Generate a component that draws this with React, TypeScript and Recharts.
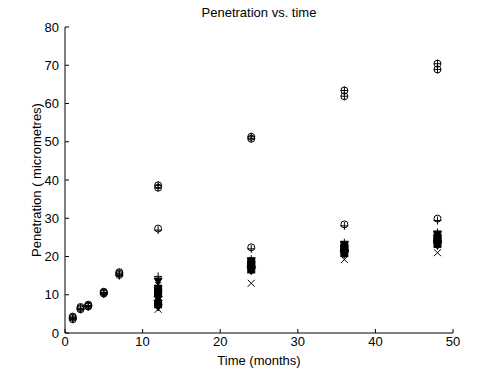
import React from 'react';
import { ScatterChart, Scatter, XAxis, YAxis } from 'recharts';

const times = [1, 2, 3, 5, 7, 12, 24, 36, 48];
const lateTimes = [12, 24, 36, 48];

const specA = [4.0, 6.5, 7.2, 10.6, 15.6, 38.6, 51.3, 63.4, 70.4];
const specB = [3.6, 6.2, 6.9, 10.3, 15.2, 38.0, 50.8, 61.9, 68.9];
const specC = [4.3, 6.8, 7.4, 10.8, 15.9, 27.3, 22.4, 28.4, 29.9];
const specD = [3.8, 6.3, 7.0, 10.2, 15.0, 26.9, 22.0, 28.0, 29.4];

const specE = [14.8, 19.3, 23.6, 26.3];
const specJ = [13.6, 18.9, 23.2, 25.9];
const specF = [12.5, 18.6, 22.8, 25.5];
const specK = [11.5, 18.2, 22.4, 25.0];
const specG = [10.5, 17.8, 22.0, 24.6];
const specL = [9.5, 17.4, 21.7, 24.2];
const specH = [8.5, 17.0, 21.3, 23.7];
const specM = [7.5, 16.6, 20.9, 23.3];
const specI = [6.8, 16.3, 20.6, 22.9];
const specX = [6.2, 13.0, 19.2, 21.0];

const xTicks = [0, 10, 20, 30, 40, 50];
const yTicks = [0, 10, 20, 30, 40, 50, 60, 70, 80];

const toPts = (ts: number[], vs: number[]) => ts.map((t, i) => ({ t, v: vs[i] }));

const FONT = '"Liberation Sans", Arial, sans-serif';
const S = '#000';

const CircleM = (p: any) => <circle cx={p.cx} cy={p.cy} r={3.5} fill="none" stroke={S} strokeWidth={1} />;
const PlusM = (p: any) => (
  <g stroke={S} strokeWidth={1}>
    <line x1={p.cx - 4} x2={p.cx + 4} y1={p.cy} y2={p.cy} />
    <line x1={p.cx} x2={p.cx} y1={p.cy - 4} y2={p.cy + 4} />
  </g>
);
const CirclePlusM = (p: any) => (
  <g stroke={S} strokeWidth={1} fill="none">
    <circle cx={p.cx} cy={p.cy} r={3.5} />
    <line x1={p.cx - 3.5} x2={p.cx + 3.5} y1={p.cy} y2={p.cy} />
    <line x1={p.cx} x2={p.cx} y1={p.cy - 4} y2={p.cy + 4} />
  </g>
);
const XM = (p: any) => (
  <g stroke={S} strokeWidth={1}>
    <line x1={p.cx - 3.5} x2={p.cx + 3.5} y1={p.cy - 3.5} y2={p.cy + 3.5} />
    <line x1={p.cx - 3.5} x2={p.cx + 3.5} y1={p.cy + 3.5} y2={p.cy - 3.5} />
  </g>
);
const SquareM = (p: any) => <rect x={p.cx - 3.5} y={p.cy - 3.5} width={7} height={7} fill={S} stroke={S} />;
const DiamondM = (p: any) => (
  <polygon points={`${p.cx},${p.cy - 4} ${p.cx + 4},${p.cy} ${p.cx},${p.cy + 4} ${p.cx - 4},${p.cy}`} fill={S} stroke={S} />
);
const TriM = (p: any) => (
  <polygon points={`${p.cx},${p.cy + 4} ${p.cx + 4},${p.cy - 3} ${p.cx - 4},${p.cy - 3}`} fill={S} stroke={S} />
);
const StarM = (p: any) => (
  <g stroke={S} strokeWidth={1}>
    <line x1={p.cx - 4} x2={p.cx + 4} y1={p.cy} y2={p.cy} />
    <line x1={p.cx} x2={p.cx} y1={p.cy - 4} y2={p.cy + 4} />
    <line x1={p.cx - 3} x2={p.cx + 3} y1={p.cy - 3} y2={p.cy + 3} />
    <line x1={p.cx - 3} x2={p.cx + 3} y1={p.cy + 3} y2={p.cy - 3} />
  </g>
);

const XTick = (p: any) => (
  <g>
    <line x1={p.x} x2={p.x} y1={p.y} y2={p.y - 4} stroke={S} />
    <text x={p.x} y={p.y + 13} textAnchor="middle" fontFamily={FONT} fontSize={13} fill={S}>
      {p.payload.value}
    </text>
  </g>
);
const YTick = (p: any) => (
  <g>
    <line x1={p.x} x2={p.x + 4} y1={p.y} y2={p.y} stroke={S} />
    <text x={p.x - 6} y={p.y + 4.5} textAnchor="end" fontFamily={FONT} fontSize={13} fill={S}>
      {p.payload.value}
    </text>
  </g>
);

export default function App() {
  return (
    <div style={{ position: 'absolute', left: 0, top: 0, width: 500, height: 375, background: '#fff' }}>
      <ScatterChart width={500} height={375} margin={{ top: 27, right: 47, bottom: 0, left: 0 }}>
        <XAxis
          type="number"
          dataKey="t"
          domain={[0, 50]}
          ticks={xTicks}
          height={42}
          tickSize={0}
          tickMargin={0}
          tickLine={false}
          axisLine={{ stroke: S }}
          tick={<XTick />}
          allowDataOverflow
        />
        <YAxis
          type="number"
          dataKey="v"
          domain={[0, 80]}
          ticks={yTicks}
          width={65}
          tickSize={0}
          tickMargin={0}
          tickLine={false}
          axisLine={{ stroke: S }}
          tick={<YTick />}
          allowDataOverflow
        />
        <Scatter data={toPts(times, specA)} shape={CirclePlusM} isAnimationActive={false} />
        <Scatter data={toPts(times, specB)} shape={CirclePlusM} isAnimationActive={false} />
        <Scatter data={toPts(times, specC)} shape={CircleM} isAnimationActive={false} />
        <Scatter data={toPts(times, specD)} shape={PlusM} isAnimationActive={false} />
        <Scatter data={toPts(lateTimes, specE)} shape={PlusM} isAnimationActive={false} />
        <Scatter data={toPts(lateTimes, specJ)} shape={TriM} isAnimationActive={false} />
        <Scatter data={toPts(lateTimes, specF)} shape={StarM} isAnimationActive={false} />
        <Scatter data={toPts(lateTimes, specK)} shape={SquareM} isAnimationActive={false} />
        <Scatter data={toPts(lateTimes, specG)} shape={SquareM} isAnimationActive={false} />
        <Scatter data={toPts(lateTimes, specL)} shape={DiamondM} isAnimationActive={false} />
        <Scatter data={toPts(lateTimes, specH)} shape={DiamondM} isAnimationActive={false} />
        <Scatter data={toPts(lateTimes, specM)} shape={SquareM} isAnimationActive={false} />
        <Scatter data={toPts(lateTimes, specI)} shape={TriM} isAnimationActive={false} />
        <Scatter data={toPts(lateTimes, specX)} shape={XM} isAnimationActive={false} />
      </ScatterChart>
      <svg width={500} height={375} style={{ position: 'absolute', left: 0, top: 0, pointerEvents: 'none' }}>
        <text x={259} y={17} textAnchor="middle" fontFamily={FONT} fontSize={13} fill={S}>
          Penetration vs. time
        </text>
        <text x={259} y={365} textAnchor="middle" fontFamily={FONT} fontSize={13} fill={S}>
          Time (months)
        </text>
        <text
          x={0}
          y={0}
          transform="translate(41,180) rotate(-90)"
          textAnchor="middle"
          fontFamily={FONT}
          fontSize={13}
          fill={S}
        >
          Penetration ( micrometres)
        </text>
      </svg>
    </div>
  );
}
